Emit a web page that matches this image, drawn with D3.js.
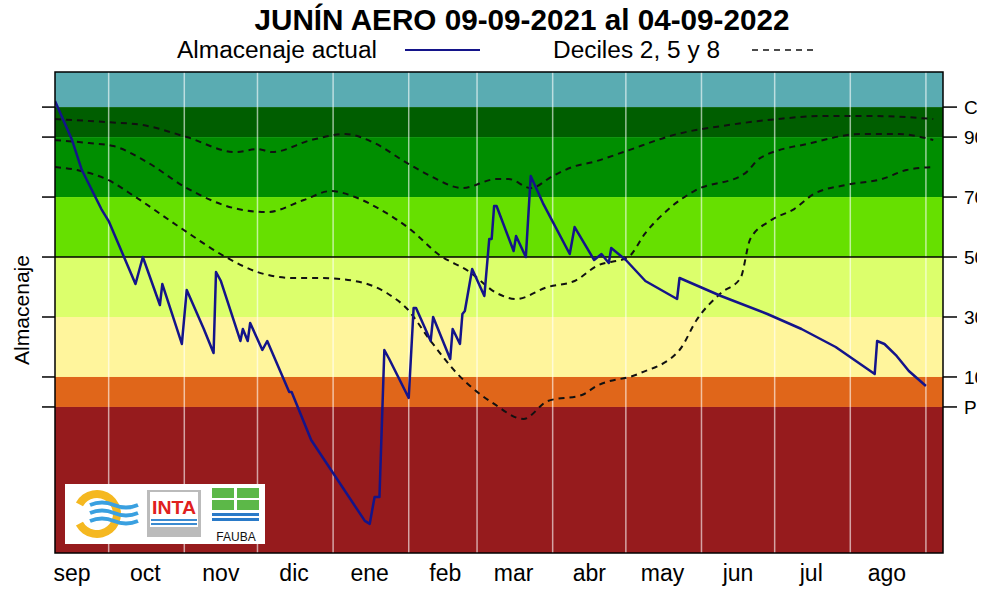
<!DOCTYPE html>
<html><head><meta charset="utf-8">
<script src="https://cdn.jsdelivr.net/npm/d3@7"></script>
<style>body{margin:0;background:#fff}svg{display:block}</style>
</head><body><svg id="c" width="1000" height="600"></svg>
<script>
const startDate = new Date(2021, 8, 9);
const endDay = 364;
const monthLabels = ["sep","oct","nov","dic","ene","feb","mar","abr","may","jun","jul","ago"];
const rightTickLabels = ["CC","90","70","50","30","10","PMP"];
const rightTickValues = [100,90,70,50,30,10,0];
const bandEdges = [112,100,90,70,50,30,10,0,-49];
const bandColors = ["#5aacb2","#005e00","#008e00","#66e000","#dcff6c","#fff59c","#e0661a","#961b1d"];
// day offsets from 09-09-2021, values
const actDays = [0,7,11,19,22,33,36,43,44,52,54,61,65,66,68,76,77,79,80,85,87,96,97,105,127,129,131,133,135,137,145,147,148,154,155,162,163,166,167,168,171,176,178,179,180,181,188,189,193,195,200,211,213,221,224,227,228,234,242,255,256,273,292,306,320,336,337,340,345,350,357];
const actVals = [102,89,79,66,62,41,50,34,41,21,39,26,18,45,42,22,26,22,28,19,22,5,5,-11,-38,-39,-30,-30,19,16,3,33,33,22,30,16,26,21,31,32,46,37,56,56,67,67,52,57,50,77,68,51,60,49,51,48,53,49,42,36,43,37,31,26,20,11,22,21,17,12,7];
const d8Days = [0,21,36,54,74,83,89,105,119,131,143,154,167,181,186,195,204,212,222,233,255,276,296,314,337,360];
const d8Vals = [96,95,94,90,85,86,85,89,91,88,82,77,73,76,76,73,77,80,82,85,91,94,96,97,97,96];
const d5Days = [0,14,24,37,54,75,87,102,113,123,133,146,157,170,181,189,202,213,222,235,242,253,262,283,289,310,330,346,360];
const d5Vals = [89,88,87,82,73,66,65,69,72,70,66,59,51,45,38,36,40,42,47,50,58,67,72,78,83,88,91,91,89];
const d2Days = [0,9,21,33,51,70,83,98,109,123,136,144,154,165,180,192,202,216,222,239,256,263,273,281,285,293,303,311,324,339,349,360];
const d2Vals = [80,79,76,70,60,50,45,43,43,42,38,33,22,11,1,-4,2,4,7,11,19,29,38,43,56,62,66,71,74,76,79,80];

const svg = d3.select("#c");
const L=55,R=943,T=72,B=553;
const day = n => d3.timeDay.offset(startDate, n);
const x = d3.scaleTime().domain([startDate, day(endDay)]).range([L,R]);
const y = d3.scaleLinear().domain([-48.7,111.7]).range([B,T]);

const clip = svg.append("defs").append("clipPath").attr("id","pc");
clip.append("rect").attr("x",L).attr("y",T).attr("width",R-L).attr("height",B-T);
const clipR = svg.select("defs").append("clipPath").attr("id","rc");
clipR.append("rect").attr("x",0).attr("y",0).attr("width",977).attr("height",600);

const g = svg.append("g").attr("clip-path","url(#pc)");
bandColors.forEach((c,i)=>{
  g.append("rect").attr("x",L).attr("width",R-L)
   .attr("y",y(bandEdges[i])).attr("height",y(bandEdges[i+1])-y(bandEdges[i])).attr("fill",c);
});
const monthStarts = d3.timeMonth.range(d3.timeMonth.ceil(startDate), day(endDay));
g.selectAll(".gl").data(monthStarts).join("line")
 .attr("x1",d=>x(d)).attr("x2",d=>x(d)).attr("y1",T).attr("y2",B)
 .attr("stroke","#fff").attr("stroke-opacity",0.6).attr("stroke-width",1.5);
g.append("line").attr("x1",L).attr("x2",R).attr("y1",y(50)).attr("y2",y(50)).attr("stroke","#000").attr("stroke-width",1.5);

const dline = d3.line().x(d=>x(day(d[0]))).y(d=>y(d[1])).curve(d3.curveMonotoneX);
[[d8Days,d8Vals],[d5Days,d5Vals],[d2Days,d2Vals]].forEach(([ds,vs])=>{
  g.append("path").attr("d",dline(ds.map((d,i)=>[d,vs[i]])))
   .attr("fill","none").attr("stroke","#111").attr("stroke-width",2).attr("stroke-dasharray","6,5");
});
const aline = d3.line().x(d=>x(day(d[0]))).y(d=>y(d[1]));
g.append("path").attr("d",aline(actDays.map((d,i)=>[d,actVals[i]])))
 .attr("fill","none").attr("stroke","#14148a").attr("stroke-width",2.5).attr("stroke-linejoin","round");

// logo
const lg = svg.append("g");
lg.append("rect").attr("x",65).attr("y",484).attr("width",200).attr("height",60).attr("fill","#fff");
lg.append("path").attr("d",d3.arc()({innerRadius:16,outerRadius:24,startAngle:0.5,endAngle:2*Math.PI-0.5}))
 .attr("transform","translate(97,514) rotate(-90)").attr("fill","#f5b820");
[505,513,521].forEach(yy=>lg.append("path").attr("d",`M90,${yy} q12,-5 24,0 t24,0`).attr("stroke","#3aa0e0").attr("stroke-width",4).attr("fill","none"));
lg.append("rect").attr("x",147).attr("y",490).attr("width",54).attr("height",47).attr("fill","#bbb");
lg.append("rect").attr("x",150).attr("y",492).attr("width",48).attr("height",35).attr("fill","#fff");
lg.append("text").attr("x",174).attr("y",514).attr("text-anchor","middle").attr("font-family","Liberation Sans").attr("font-weight","bold").attr("font-size",19).attr("textLength",44).attr("lengthAdjust","spacingAndGlyphs").attr("fill","#e02020").text("INTA");
lg.append("rect").attr("x",151).attr("y",519).attr("width",46).attr("height",2).attr("fill","#3a8ad0");
lg.append("rect").attr("x",151).attr("y",523).attr("width",46).attr("height",2).attr("fill","#3a8ad0");
[[212,488],[237,488],[212,500],[237,500]].forEach(([a,b])=>lg.append("rect").attr("x",a).attr("y",b).attr("width",22).attr("height",10).attr("fill","#5cb848"));
lg.append("rect").attr("x",212).attr("y",513).attr("width",47).attr("height",3).attr("fill","#2a7ac8");
lg.append("rect").attr("x",212).attr("y",518).attr("width",47).attr("height",3).attr("fill","#2a7ac8");
lg.append("text").attr("x",236).attr("y",541).attr("text-anchor","middle").attr("font-family","Liberation Sans").attr("font-size",12).attr("fill","#111").text("FAUBA");

// frame
svg.append("rect").attr("x",L).attr("y",T).attr("width",R-L).attr("height",B-T).attr("fill","none").attr("stroke","#000").attr("stroke-width",1.5);

const font = "Liberation Sans, Arial";
svg.selectAll(".lt").data(rightTickValues).join("line")
 .attr("x1",42).attr("x2",L).attr("y1",d=>y(d)).attr("y2",d=>y(d)).attr("stroke","#000").attr("stroke-width",1.5);
const rg = svg.append("g").attr("clip-path","url(#rc)");
rg.selectAll("line").data(rightTickValues).join("line")
 .attr("x1",R).attr("x2",957).attr("y1",d=>y(d)).attr("y2",d=>y(d)).attr("stroke","#000").attr("stroke-width",1.5);
rg.selectAll("text").data(rightTickValues).join("text")
 .attr("x",964).attr("y",d=>y(d)+7).attr("font-family",font).attr("font-size",19).text((d,i)=>rightTickLabels[i]);

const midMonths = monthLabels.map((m,i)=>new Date(2021, 8+i, 16));
svg.selectAll(".xl").data(midMonths).join("text")
 .attr("x",d=>x(d)).attr("y",581).attr("text-anchor","middle").attr("font-family",font).attr("font-size",23)
 .text((d,i)=>monthLabels[i]);

svg.append("text").attr("transform","translate(29,310) rotate(-90)").attr("text-anchor","middle")
 .attr("font-family",font).attr("font-size",21).attr("textLength",110).attr("lengthAdjust","spacingAndGlyphs").text("Almacenaje");

svg.append("text").attr("x",522).attr("y",30).attr("text-anchor","middle").attr("font-family",font)
 .attr("font-weight","bold").attr("font-size",30).attr("textLength",535).attr("lengthAdjust","spacingAndGlyphs").text("JUNÍN AERO 09-09-2021 al 04-09-2022");
svg.append("text").attr("x",177).attr("y",58).attr("font-family",font).attr("font-size",23).attr("textLength",200).attr("lengthAdjust","spacingAndGlyphs").text("Almacenaje actual");
svg.append("line").attr("x1",405).attr("x2",480).attr("y1",50).attr("y2",50).attr("stroke","#14148a").attr("stroke-width",2);
svg.append("text").attr("x",553).attr("y",58).attr("font-family",font).attr("font-size",23).attr("textLength",167).attr("lengthAdjust","spacingAndGlyphs").text("Deciles 2, 5 y 8");
svg.append("line").attr("x1",752).attr("x2",815).attr("y1",50).attr("y2",50).attr("stroke","#111").attr("stroke-width",1.5).attr("stroke-dasharray","6,5");
</script></body></html>
